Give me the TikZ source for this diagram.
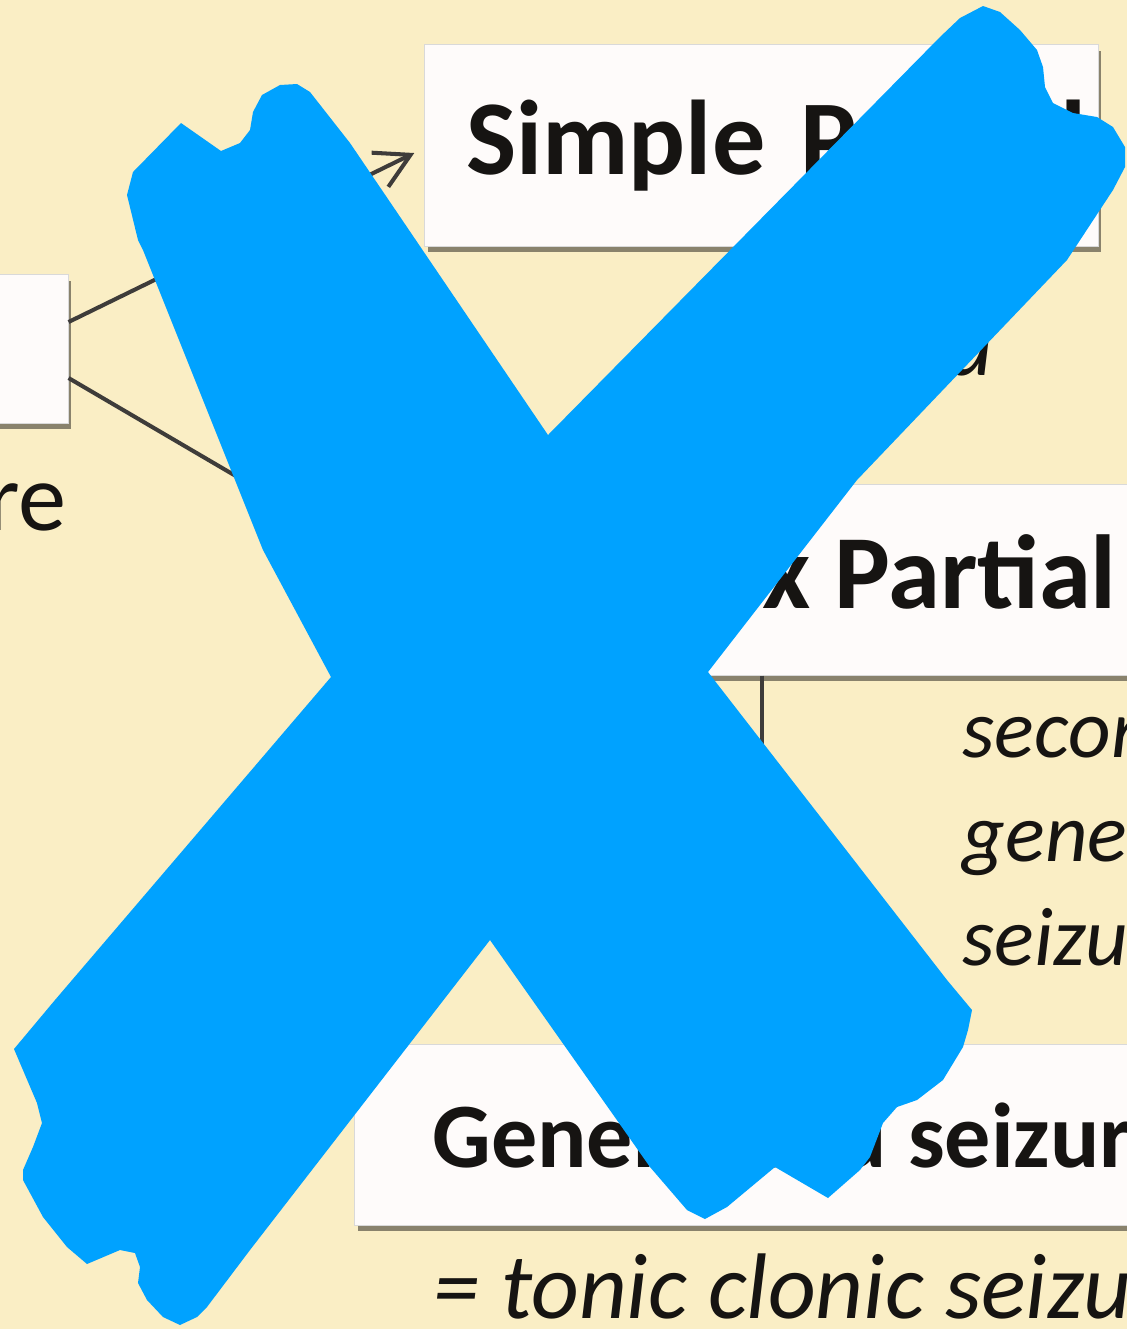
\documentclass[tikz,border=0pt]{standalone}
\usepackage{fontspec}
\setmainfont{Carlito}
\usetikzlibrary{arrows.meta,shadows}
\definecolor{cream}{RGB}{250,238,197}
\definecolor{boxwhite}{RGB}{254,251,250}
\definecolor{crossblue}{RGB}{0,162,255}
\definecolor{linkgray}{RGB}{62,60,58}
\definecolor{ink}{RGB}{22,20,18}

\begin{document}
\begin{tikzpicture}[x=0.01cm, y=-0.01cm,
    box/.style={draw=black!15, line width=0.3pt, fill=boxwhite, inner sep=0pt, text=ink,
        drop shadow={shadow xshift=0.03cm, shadow yshift=-0.06cm, fill=black!60!cream, opacity=0.75}},
    link/.style={draw=linkgray, line width=1.15pt, -{Straight Barb[length=3.4mm, width=3.8mm]}},
    note/.style={inner sep=0pt, text=ink}]

    \useasboundingbox (0,0) rectangle (1127,1329);
    \clip (0,0) rectangle (1127,1329);
    \fill[cream] (0,0) rectangle (1127,1329);

    % boxes
    \node[box, minimum width=1.48cm, minimum height=1.48cm] (root) at (-6,349) {};
    \node[box, minimum width=6.73cm, minimum height=2.01cm, inner xsep=0.12cm,
          text width=6.49cm, align=right,
          font=\fontsize{30.2}{35}\selectfont\bfseries] (simple) at (761.5,145.5) {Simple Partial};
    \node[box, minimum width=7.88cm, minimum height=1.90cm,
          font=\fontsize{29.9}{35}\selectfont\bfseries] (complex) at (774,580) {Complex Partial};
    \node[box, minimum width=9.00cm, minimum height=1.80cm,
          font=\fontsize{26.2}{31}\selectfont\bfseries] (general) at (805,1135) {Generalised seizure};

    % texts beside the boxes
    \node[note, anchor=base east, font=\fontsize{27.4}{32}\selectfont] (reword) at (67,530) {re};
    \node[note, anchor=base east, font=\fontsize{25.6}{30}\selectfont\itshape] (aword) at (994,375) {a};
    \node[note, anchor=base west, font=\fontsize{23.6}{28}\selectfont\itshape] (secword) at (962,757) {secon};
    \node[note, anchor=base west, font=\fontsize{23.6}{28}\selectfont\itshape] (genword) at (962,861) {gene};
    \node[note, anchor=base west, font=\fontsize{23.6}{28}\selectfont\itshape] (seizword) at (962,965) {seizu};
    \node[note, anchor=base west, font=\fontsize{26.5}{31}\selectfont\itshape] (tonic) at (433,1318) {= tonic clonic seizu};

    % connectors
    \draw[link] ([yshift=0.27cm]root.east) -- ([xshift=-0.1cm,yshift=-0.075cm]simple.west);
    \draw[link] ([yshift=-0.29cm]root.east) -- ([yshift=0.2cm]complex.west);
    \draw[link] ([xshift=-0.12cm]complex.south) -- ([xshift=-0.12cm]complex.south |- general.north);

    % the cross on top
    \fill[crossblue] (138,240) -- (127,195) -- (133,172) -- (181,123) -- (221,151) -- (240,143)
        -- (250,130) -- (253,112) -- (262,95) -- (280,85) -- (297,84) -- (310,92) -- (350,143)
        -- (548,435) -- (940,37) -- (960,18) -- (983,6) -- (1000,12) -- (1020,30) -- (1037,50)
        -- (1043,67) -- (1045,87) -- (1053,103) -- (1073,113) -- (1097,117) -- (1113,127)
        -- (1125,147) -- (1125,167) -- (1113,190) -- (1067,260) -- (857,480) -- (708,672)
        -- (947,980) -- (972,1010) -- (968,1030) -- (963,1047) -- (943,1080) -- (917,1100)
        -- (897,1107) -- (883,1123) -- (870,1157) -- (860,1170) -- (828,1198) -- (775,1167)
        -- (727,1207) -- (705,1219) -- (687,1210) -- (650,1167) -- (490,940) -- (250,1250)
        -- (207,1307) -- (197,1317) -- (180,1325) -- (163,1317) -- (147,1300) -- (138,1283)
        -- (140,1267) -- (135,1253) -- (120,1250) -- (87,1264) -- (67,1247) -- (43,1217)
        -- (23,1180) -- (23,1170) -- (33,1147) -- (42,1123) -- (37,1103) -- (14,1049)
        -- (55,1000) -- (331,677) -- (263,550) -- (215,430) -- (143,250) -- cycle;

\end{tikzpicture}
\end{document}
